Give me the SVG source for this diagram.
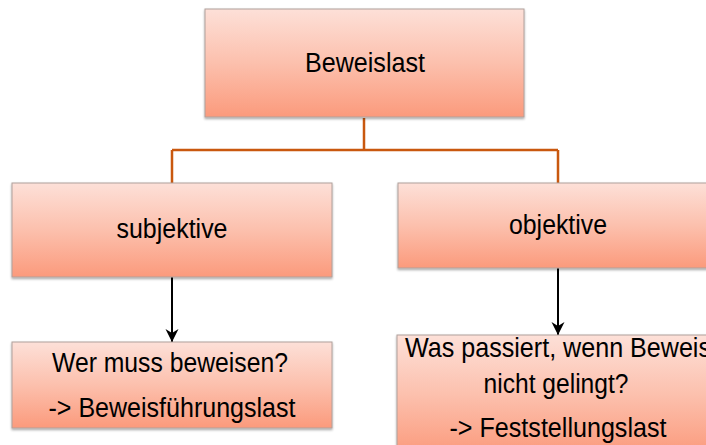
<svg xmlns="http://www.w3.org/2000/svg" width="706" height="445" viewBox="0 0 706 445">
<style>
.box{fill:url(#g);stroke:#b0a09c;stroke-width:1;filter:url(#sh)}
.t{font-family:"Liberation Sans",Arial,sans-serif;fill:#000;text-anchor:middle;font-size:27.5px}
.org{stroke:#c9580f;stroke-width:2.5;fill:none}
.blk{stroke:#000;stroke-width:2;fill:none;marker-end:url(#ah)}
</style>
<defs>
<linearGradient id="g" x1="0" y1="0" x2="0" y2="1">
<stop offset="0" stop-color="#fde0d8"/>
<stop offset="0.5" stop-color="#fcc0ad"/>
<stop offset="1" stop-color="#fb9a7c"/>
</linearGradient>
<filter id="sh" x="-5%" y="-5%" width="110%" height="115%">
<feDropShadow dx="0" dy="1.5" stdDeviation="1.2" flood-color="#000" flood-opacity="0.35"/>
</filter>
<marker id="ah" markerWidth="14" markerHeight="14" refX="13" refY="6.5" orient="auto" markerUnits="userSpaceOnUse">
<path d="M0,0 L13,6.5 L0,13 L4,6.5 Z" fill="#000"/>
</marker>
</defs>
<g id="connectors">
<path class="org" d="M364,118 V150 M172,150 H558 M172,150 V183 M558,150 V183"/>
<line class="blk" x1="172" y1="277" x2="172" y2="342"/>
<line class="blk" x1="558" y1="268" x2="558" y2="335"/>
</g>
<g id="n-beweislast">
<rect class="box" x="205" y="9" width="319" height="108"/>
<text class="t" x="365" y="72" textLength="120" lengthAdjust="spacingAndGlyphs">Beweislast</text>
</g>
<g id="n-subjektive">
<rect class="box" x="12" y="183" width="320" height="94"/>
<text class="t" x="172" y="238" textLength="111" lengthAdjust="spacingAndGlyphs">subjektive</text>
</g>
<g id="n-objektive">
<rect class="box" x="398" y="183" width="320" height="85"/>
<text class="t" x="558" y="234" textLength="98" lengthAdjust="spacingAndGlyphs">objektive</text>
</g>
<g id="n-beweisfuehrungslast">
<rect class="box" x="12" y="342" width="320" height="86"/>
<text class="t" x="170" y="372" textLength="236" lengthAdjust="spacingAndGlyphs">Wer muss beweisen?</text>
<text class="t" x="172" y="417" textLength="247" lengthAdjust="spacingAndGlyphs">-&gt; Beweisführungslast</text>
</g>
<g id="n-feststellungslast">
<rect class="box" x="397" y="335" width="322" height="120"/>
<text class="t" x="558" y="357" textLength="306" lengthAdjust="spacingAndGlyphs">Was passiert, wenn Beweis</text>
<text class="t" x="556" y="393" textLength="145" lengthAdjust="spacingAndGlyphs">nicht gelingt?</text>
<text class="t" x="558" y="437" textLength="217" lengthAdjust="spacingAndGlyphs">-&gt; Feststellungslast</text>
</g>
</svg>
